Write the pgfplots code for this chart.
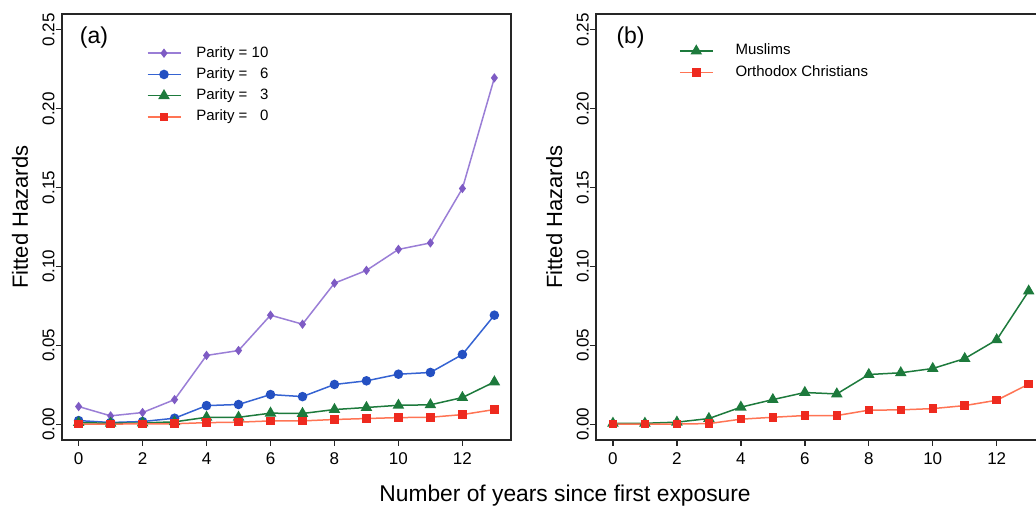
\documentclass[border=0pt]{standalone}
\usepackage{pgfplots}
\pgfplotsset{compat=1.18}
\usepackage{fontspec}
\setmainfont{Liberation Sans}
\definecolor{cpurple}{HTML}{9A7ED6}
\definecolor{cpurplem}{HTML}{7E5BC4}
\definecolor{cblue}{HTML}{3563D2}
\definecolor{cbluem}{HTML}{2450C2}
\definecolor{cgreen}{HTML}{1D7A3C}
\definecolor{cred}{HTML}{FF7454}
\definecolor{credm}{HTML}{EE2A1F}
\pgfplotsset{
  hz/.style={
    scale only axis, width=224.5pt, height=213pt,
    anchor=south west,
    xmin=-0.52, xmax=13.52, ymin=-0.01, ymax=0.26,
    xtick={0,2,...,12}, ytick={0,0.05,0.10,0.15,0.20,0.25},
    tick align=outside, major tick length=3pt,
    xtick pos=bottom, ytick pos=left,
    axis line style={black!85, line width=0.9pt},
    every tick/.style={black!85, line width=0.7pt},
    /pgf/number format/assume math mode=true,
    yticklabel style={rotate=90, anchor=south, inner sep=0.5pt, font=\fontsize{8.5}{10}\selectfont, /pgf/number format/fixed, /pgf/number format/zerofill, /pgf/number format/precision=2},
    xticklabel style={font=\fontsize{8.5}{10}\selectfont},
    scaled y ticks=false,
    ylabel={Fitted Hazards},
    ylabel style={font=\fontsize{11}{13}\selectfont, at={(axis description cs:0,0.523)}, anchor=center, yshift=21pt},
    legend cell align=left,
    legend image code/.code={\draw[mark repeat=2,mark phase=2] plot coordinates {(0pt,0pt) (8.25pt,0pt) (16.5pt,0pt)};},
    legend style={draw=none, fill=none, font=\fontsize{7.5}{9}\selectfont, anchor=north west, row sep=-0.3pt},
  },
}
\begin{document}
\begin{tikzpicture}
\path[use as bounding box] (0,0) rectangle (518pt,253.5pt);
\begin{axis}[hz, at={(31pt,33.5pt)},
  legend style={at={(axis description cs:0.1745,0.944)}, /tikz/every odd column/.append style={column sep=5.5pt}}]
\addplot[cpurple, line width=0.75pt, mark=diamond*, mark size=1.75pt, mark options={fill=cpurplem, draw=cpurplem}] coordinates {
(0,0.0112) (1,0.0053) (2,0.0074) (3,0.0156) (4,0.0436) (5,0.0467) (6,0.0691) (7,0.0634) (8,0.0894) (9,0.0975) (10,0.1108) (11,0.1149) (12,0.1494) (13,0.2195)};
\addlegendentry{Parity = 10}
\addplot[cblue, line width=0.75pt, mark=*, mark size=2pt, mark options={fill=cbluem, draw=cbluem}] coordinates {
(0,0.0023) (1,0.0011) (2,0.0017) (3,0.0038) (4,0.0118) (5,0.0125) (6,0.0188) (7,0.0175) (8,0.0252) (9,0.0275) (10,0.0317) (11,0.0328) (12,0.0442) (13,0.0691)};
\addlegendentry{Parity = \ \ 6}
\addplot[cgreen, line width=0.75pt, mark=triangle*, mark size=2.6pt, mark options={fill=cgreen}] coordinates {
(0,0.0010) (1,0.0006) (2,0.0008) (3,0.0015) (4,0.0044) (5,0.0044) (6,0.0070) (7,0.0068) (8,0.0093) (9,0.0106) (10,0.0120) (11,0.0123) (12,0.0169) (13,0.0268)};
\addlegendentry{Parity = \ \ 3}
\addplot[cred, line width=0.75pt, mark=square*, mark size=1.75pt, mark options={fill=credm, draw=credm}] coordinates {
(0,0.0000) (1,0.0001) (2,0.0002) (3,0.0003) (4,0.0010) (5,0.0013) (6,0.0021) (7,0.0021) (8,0.0030) (9,0.0036) (10,0.0042) (11,0.0044) (12,0.0061) (13,0.0093)};
\addlegendentry{Parity = \ \ 0}
\node[anchor=west, inner sep=0pt, font=\fontsize{11.5}{13}\selectfont] at (axis cs:0.03,0.245) {(a)};
\end{axis}
\begin{axis}[hz, at={(298.15pt,33.5pt)},
  legend style={at={(axis description cs:0.17,0.949)}, /tikz/every odd column/.append style={column sep=9pt}}]
\addplot[cgreen, line width=0.75pt, mark=triangle*, mark size=2.6pt, mark options={fill=cgreen}] coordinates {
(0,0.0006) (1,0.0006) (2,0.0013) (3,0.0036) (4,0.0108) (5,0.0156) (6,0.0201) (7,0.0192) (8,0.0315) (9,0.0326) (10,0.0353) (11,0.0416) (12,0.0535) (13,0.0844)};
\addlegendentry{Muslims}
\addplot[cred, line width=0.75pt, mark=square*, mark size=1.75pt, mark options={fill=credm, draw=credm}] coordinates {
(0,0.0000) (1,0.0000) (2,0.0001) (3,0.0004) (4,0.0032) (5,0.0044) (6,0.0055) (7,0.0055) (8,0.0089) (9,0.0091) (10,0.0099) (11,0.0118) (12,0.0152) (13,0.0254)};
\addlegendentry{Orthodox Christians}
\node[anchor=west, inner sep=0pt, font=\fontsize{11.5}{13}\selectfont] at (axis cs:0.1,0.245) {(b)};
\end{axis}
\node[anchor=base, font=\fontsize{11.4}{13}\selectfont] at (282.5pt,2.65pt) {Number of years since first exposure};
\end{tikzpicture}
\end{document}
